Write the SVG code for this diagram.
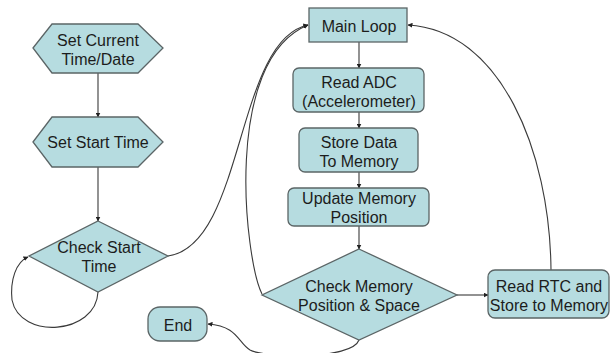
<svg xmlns="http://www.w3.org/2000/svg" width="610" height="353" viewBox="0 0 610 353">
  <defs>
    <marker id="arrow" viewBox="0 0 10 10" refX="9" refY="5" markerWidth="5" markerHeight="5" orient="auto" markerUnits="userSpaceOnUse">
      <path d="M0,0 L10,5 L0,10 z" fill="#222"/>
    </marker>
    <style>
      .shape { fill: #b6dce0; stroke: #5b6566; stroke-width: 1.3; }
      .label { font-family: "Liberation Sans", Arial, sans-serif; font-size: 16px; fill: #1c1c1c; text-anchor: middle; }
      .edge { fill: none; stroke: #3a3a3a; stroke-width: 1.1; marker-end: url(#arrow); }
    </style>
  </defs>
  <rect width="610" height="353" fill="#ffffff"/>

  <!-- connectors -->
  <g id="connectors">
    <path class="edge" d="M98,73 L98,117"/>
    <path class="edge" d="M98,167 L98,221"/>
    <path class="edge" d="M98,292 C96,335 20,340 12,300 C10,280 16,262 28,257"/>
    <path class="edge" d="M168,256 C245,245 235,40 308,25"/>
    <path class="edge" d="M262,294 C245,260 222,60 308,25"/>
    <path class="edge" d="M359,42 L359,68"/>
    <path class="edge" d="M359,112 L359,128"/>
    <path class="edge" d="M359,172 L359,188"/>
    <path class="edge" d="M359,226 L359,249"/>
    <path class="edge" d="M457,295 L488,295"/>
    <path class="edge" d="M551,270 C550,150 500,30 408,25"/>
    <path class="edge" d="M359,340 C352,360 265,358 250,350 C238,343 238,326 208,324"/>
  </g>

  <g id="set-current-time">
    <polygon class="shape" points="33,48 52,24 138,24 163,48 138,73 52,73"/>
    <text class="label" x="98" y="46">Set Current</text>
    <text class="label" x="98" y="65">Time/Date</text>
  </g>

  <g id="set-start-time">
    <polygon class="shape" points="33,142 52,117 138,117 163,142 138,167 52,167"/>
    <text class="label" x="98" y="148">Set Start Time</text>
  </g>

  <g id="check-start-time">
    <polygon class="shape" points="98,221 168,256 98,292 29,256"/>
    <text class="label" x="99" y="253">Check Start</text>
    <text class="label" x="99" y="272">Time</text>
  </g>

  <g id="main-loop">
    <rect class="shape" x="309" y="8" width="98" height="34"/>
    <text class="label" x="359" y="32">Main Loop</text>
  </g>

  <g id="read-adc">
    <rect class="shape" x="293" y="68" width="131" height="44" rx="6"/>
    <text class="label" x="359" y="88">Read ADC</text>
    <text class="label" x="359" y="107">(Accelerometer)</text>
  </g>

  <g id="store-data">
    <rect class="shape" x="299" y="128" width="119" height="44" rx="6"/>
    <text class="label" x="359" y="148">Store Data</text>
    <text class="label" x="359" y="167">To Memory</text>
  </g>

  <g id="update-memory">
    <rect class="shape" x="288" y="188" width="141" height="38" rx="6"/>
    <text class="label" x="359" y="204">Update Memory</text>
    <text class="label" x="359" y="223">Position</text>
  </g>

  <g id="check-memory">
    <polygon class="shape" points="359,249 457,295 359,340 262,295"/>
    <text class="label" x="359" y="292">Check Memory</text>
    <text class="label" x="359" y="311">Position &amp; Space</text>
  </g>

  <g id="read-rtc">
    <rect class="shape" x="488" y="270" width="121" height="48" rx="7"/>
    <text class="label" x="549" y="292">Read RTC and</text>
    <text class="label" x="549" y="311">Store to Memory</text>
  </g>

  <g id="end">
    <rect class="shape" x="148" y="307" width="59" height="34" rx="12"/>
    <text class="label" x="178" y="331">End</text>
  </g>
</svg>
